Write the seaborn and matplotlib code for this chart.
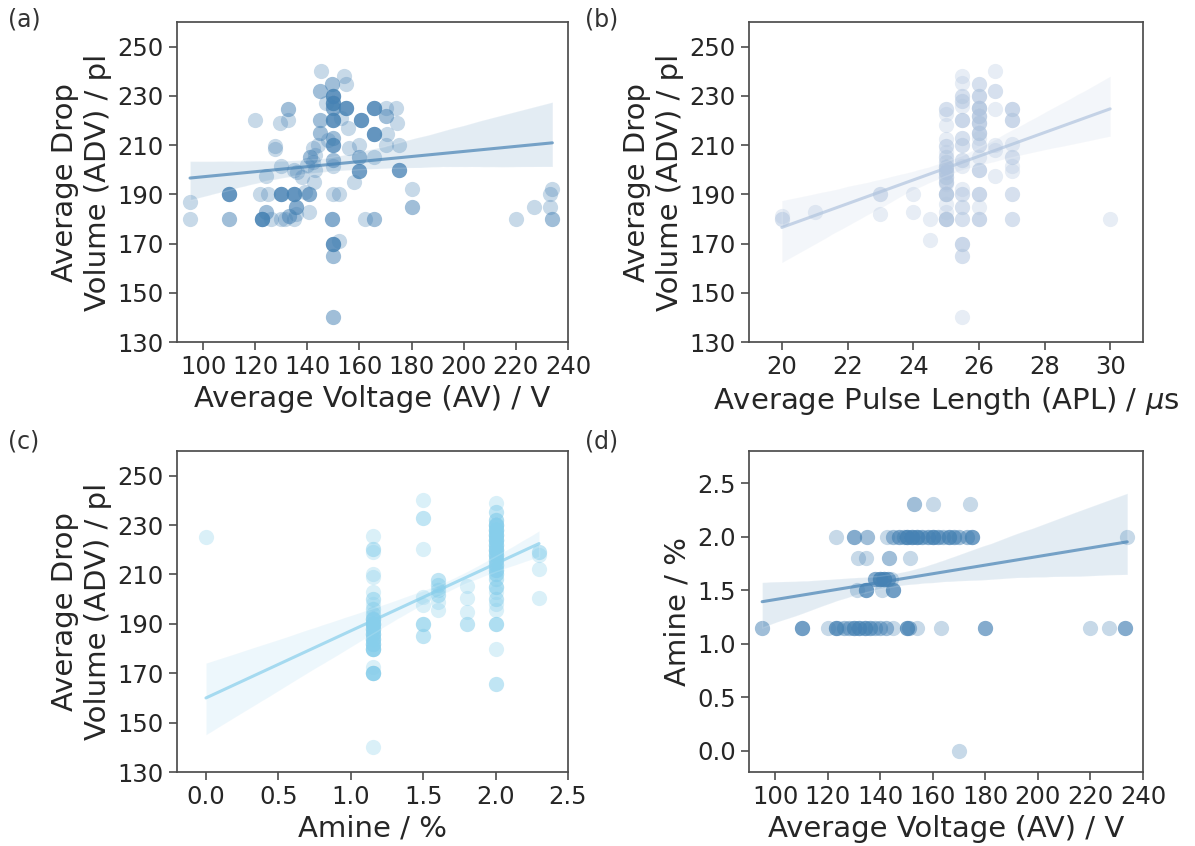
import numpy as np
import matplotlib
matplotlib.use("Agg")
import matplotlib.pyplot as plt
import seaborn as sns

def rep(pairs):
    xs, ys = [], []
    for x, y, n in pairs:
        xs += [x] * n
        ys += [y] * n
    return np.array(xs, float), np.array(ys, float)

# ---------------- Panel (a): ADV vs AV  (x, y, count) ----------------
a_pts = [
    (95, 187, 1), (95, 180, 1), (110, 190, 5), (110, 180, 2), (120, 220, 1),
    (122, 190, 1), (122.5, 180, 6), (124, 183, 2), (124, 197.5, 1), (125, 190, 1),
    (126, 180, 1), (127.5, 209.5, 1), (127.5, 208.5, 1), (129.5, 219, 1),
    (130, 201.5, 1), (130, 190, 5), (130, 180, 1), (131.5, 180, 1),
    (132.5, 224.5, 2), (132.5, 220, 1), (133, 181, 2), (135, 200, 1),
    (135, 190, 5), (135.5, 185, 3), (135.5, 182, 1), (135, 180, 1), (136, 199, 1),
    (138, 197, 1), (139, 191, 1), (140.5, 190, 3), (140.5, 183, 1), (140, 202, 1),
    (141, 205, 2), (142, 203, 1), (142, 209, 1), (142.5, 195, 1), (143, 206, 1),
    (143, 200, 1), (144, 210, 1), (145, 220, 2), (145, 215, 2), (145, 232, 2),
    (145.3, 240, 1), (147, 227, 1), (148, 212, 1), (149.5, 235, 2), (150, 230, 5),
    (150, 227, 5), (150, 225, 3), (150, 220, 5), (150, 213, 2), (150, 210, 4),
    (150, 204, 2), (150, 201.5, 1), (150, 190, 1), (149.5, 180, 3), (150, 170, 5),
    (150, 165, 2), (150, 140, 2), (152, 171, 1), (152, 190, 1), (154, 238, 1),
    (155, 235, 1), (155, 225, 5), (153, 221, 1), (155.5, 217, 1), (156, 209, 1),
    (158, 195, 1), (160.5, 220, 5), (160, 210, 1), (160, 205, 2), (160, 199.5, 4),
    (162, 180, 1), (165.5, 180, 2), (165.5, 225, 5), (165.5, 214.5, 5),
    (165.5, 205, 1), (170, 225, 1), (170, 222, 2), (170.5, 214.5, 1), (170, 210, 1),
    (174, 225, 1), (174.5, 219, 1), (175, 210, 1), (175, 200, 4), (180, 192, 1),
    (180, 185, 2), (220, 180, 1), (227, 185, 1), (233, 185, 1), (233, 190, 1),
    (234, 192, 1), (233.7, 180, 2),
]
av_a, adv_a = rep(a_pts)

# ---------------- Panel (b): ADV vs APL ----------------
b_pts = [
    (20, 181, 1), (20, 180, 2), (21, 182.7, 1), (23, 190, 2), (23, 182, 1),
    (24, 190, 1), (24, 183, 1), (24.5, 180, 1), (24.5, 171.5, 1),
    (25, 224.6, 2), (25, 222.8, 1), (25, 218, 1), (25, 212.4, 1), (25, 209.7, 2),
    (25, 207, 1), (25, 205, 2), (25, 203, 2), (25, 201, 4), (25, 199, 4),
    (25, 197, 3), (25, 195, 3), (25, 194, 1), (25, 190, 5), (25, 186, 1),
    (25, 183, 1), (25, 180, 5),
    (25.5, 238, 1), (25.5, 235.4, 1), (25.5, 230, 2), (25.5, 228, 2), (25.5, 226, 1),
    (25.5, 220, 3), (25.5, 213, 2), (25.5, 210, 2), (25.5, 204, 2), (25.5, 201.6, 1),
    (25.5, 192, 1), (25.5, 190, 2), (25.5, 185, 2), (25.5, 180, 2), (25.5, 170, 3),
    (25.5, 165, 2), (25.5, 140, 1),
    (26, 235, 2), (26, 230, 3), (26, 225, 5), (26, 222, 4), (26, 219, 4),
    (26, 215, 4), (26, 213, 1), (26, 210, 2), (26, 205, 1), (26, 200, 3),
    (26, 190, 3), (26, 185, 1), (26, 180, 3),
    (26.5, 240, 1), (26.5, 232, 2), (26.5, 224.6, 1), (26.5, 210, 1), (26.5, 208, 1),
    (26.5, 197.6, 1),
    (27, 224.6, 3), (27, 220, 3), (27, 210.4, 1), (27, 205, 2), (27, 201.6, 1),
    (27, 199.6, 1), (27, 190, 2), (27, 180, 2), (30, 180, 1),
]
apl_b, adv_b = rep(b_pts)

# ---------------- Panel (c): ADV vs Amine ----------------
c_pts = [
    (0.0, 225.3, 1),
    (1.15, 225.5, 1), (1.15, 220.5, 2), (1.15, 219, 1), (1.15, 210, 1), (1.15, 209, 1),
    (1.15, 203, 1), (1.15, 200, 2), (1.15, 198, 1), (1.15, 196, 2), (1.15, 194, 2),
    (1.15, 192, 5), (1.15, 190, 6), (1.15, 188, 5), (1.15, 186, 5), (1.15, 184, 5),
    (1.15, 182, 5), (1.15, 180, 6), (1.15, 172.6, 1), (1.15, 170, 6), (1.15, 140, 1),
    (1.5, 240, 1), (1.5, 232.7, 2), (1.5, 220.5, 1), (1.5, 201, 1), (1.5, 197.6, 1),
    (1.5, 190, 3), (1.5, 185, 2),
    (1.6, 207.7, 2), (1.6, 205.7, 2), (1.6, 203.6, 2), (1.6, 201.6, 2), (1.6, 199, 1),
    (1.6, 195.5, 1),
    (1.8, 205.3, 1), (1.8, 200.3, 1), (1.8, 195, 1), (1.8, 190, 2),
    (2.0, 238.8, 1), (2.0, 235.4, 2), (2.0, 232, 3), (2.0, 230, 6), (2.0, 228, 6),
    (2.0, 226, 6), (2.0, 224, 6), (2.0, 222, 5), (2.0, 220, 6), (2.0, 218, 5),
    (2.0, 216, 4), (2.0, 214, 4), (2.0, 212, 4), (2.0, 210, 3), (2.0, 208, 2),
    (2.0, 205, 3), (2.0, 203, 1), (2.0, 200, 2), (2.0, 198, 1), (2.0, 195.5, 1),
    (2.0, 190, 3), (2.0, 180, 1), (2.0, 165.8, 2),
    (2.3, 219, 2), (2.3, 217.8, 1), (2.3, 212.4, 1), (2.3, 200.3, 1),
]
amine_c, adv_c = rep(c_pts)

# ---------------- Panel (d): Amine vs AV ----------------
d_pts = [
    (152.8, 2.3, 2), (160, 2.3, 1), (174, 2.3, 1),
    (123, 2.0, 1), (130, 2.0, 3), (135, 2.0, 2), (142.5, 2.0, 1), (145, 2.0, 2),
    (147, 2.0, 3), (149, 2.0, 2), (150, 2.0, 5), (152, 2.0, 5), (154, 2.0, 5),
    (156, 2.0, 3), (158, 2.0, 3), (160, 2.0, 5), (162, 2.0, 3), (164, 2.0, 2),
    (166, 2.0, 4), (168, 2.0, 3), (170, 2.0, 2), (173, 2.0, 2), (175, 2.0, 4),
    (234, 2.0, 1),
    (131.5, 1.8, 1), (134.7, 1.8, 1), (143.3, 1.8, 2), (151.3, 1.8, 1),
    (138, 1.6, 3), (140, 1.6, 5), (141.5, 1.6, 5), (143, 1.6, 3), (144, 1.6, 1),
    (131.2, 1.5, 1), (134.7, 1.5, 4), (140.5, 1.5, 1), (145, 1.5, 4),
    (95, 1.15, 2), (110, 1.15, 4), (120, 1.15, 1), (123, 1.15, 4), (124, 1.15, 1),
    (126, 1.15, 2), (128, 1.15, 2), (130, 1.15, 4), (132, 1.15, 4), (134, 1.15, 4),
    (136, 1.15, 3), (138, 1.15, 2), (140, 1.15, 2), (142, 1.15, 2), (145, 1.15, 1),
    (150, 1.15, 4), (151, 1.15, 2), (154, 1.15, 1), (163, 1.15, 1), (180, 1.15, 3),
    (220, 1.15, 1), (227, 1.15, 1), (233, 1.15, 3),
    (170, 0.0, 1),
]
av_d, amine_d = rep(d_pts)

adv_ticks = [130, 150, 170, 190, 210, 230, 250]
av_ticks = [100, 120, 140, 160, 180, 200, 220, 240]
apl_ticks = [20, 22, 24, 26, 28, 30]
amine_xticks = [0.0, 0.5, 1.0, 1.5, 2.0, 2.5]
amine_yticks = [0.0, 0.5, 1.0, 1.5, 2.0, 2.5]

sns.set_theme(style="ticks")
plt.rcParams['font.family'] = ['DejaVu Sans']
plt.rcParams['xtick.labelsize'] = 17.5
plt.rcParams['ytick.labelsize'] = 17.5
plt.rcParams['axes.labelsize'] = 21

fig = plt.figure(figsize=(11.95, 8.46), dpi=100)
W, H = 1195, 846
def add_ax(l, r, t, b):
    return fig.add_axes([l / W, 1 - b / H, (r - l) / W, (b - t) / H])

ax_a = add_ax(177, 568, 22, 342)
ax_b = add_ax(749, 1143, 22, 342)
ax_c = add_ax(177, 568, 451, 772)
ax_d = add_ax(749, 1143, 451, 772)

sk = dict(alpha=0.3, s=120, linewidths=0)
lk = dict(alpha=0.7, lw=2.2)

sns.regplot(x=av_a, y=adv_a, ax=ax_a, color="steelblue", scatter_kws=sk, line_kws=lk, seed=1)
sns.regplot(x=apl_b, y=adv_b, ax=ax_b, color="lightsteelblue", scatter_kws=sk, line_kws=lk, seed=1)
sns.regplot(x=amine_c, y=adv_c, ax=ax_c, color="skyblue", scatter_kws=sk, line_kws=lk, seed=1)
sns.regplot(x=av_d, y=amine_d, ax=ax_d, color="steelblue", scatter_kws=sk, line_kws=lk, seed=1)

adv_label = "Average Drop\nVolume (ADV) / pl"
for ax in (ax_a, ax_b, ax_c):
    ax.set_ylim(130, 260)
    ax.set_yticks(adv_ticks)
    ax.set_ylabel(adv_label)

ax_a.set_xlim(90, 240)
ax_a.set_xticks(av_ticks)
ax_a.set_xlabel("Average Voltage (AV) / V")

ax_b.set_xlim(19, 31)
ax_b.set_xticks(apl_ticks)
ax_b.set_xlabel(r"Average Pulse Length (APL) / $\mu$s")

ax_c.set_xlim(-0.2, 2.5)
ax_c.set_xticks(amine_xticks)
ax_c.set_xlabel("Amine / %")

ax_d.set_xlim(90, 240)
ax_d.set_xticks(av_ticks)
ax_d.set_ylim(-0.2, 2.8)
ax_d.set_yticks(amine_yticks)
ax_d.set_xlabel("Average Voltage (AV) / V")
ax_d.set_ylabel("Amine / %")

for ax in (ax_a, ax_b, ax_c, ax_d):
    for sp in ax.spines.values():
        sp.set_visible(True)
        sp.set_color("0.3")
    ax.tick_params(length=6, width=1.2, color="0.3")

for lab, x, y in [("(a)", 8, 8), ("(b)", 585, 8), ("(c)", 8, 430), ("(d)", 585, 430)]:
    fig.text(x / W, 1 - y / H, lab, fontsize=17, color="0.2", ha="left", va="top")

fig.savefig("out.png", dpi=100)
